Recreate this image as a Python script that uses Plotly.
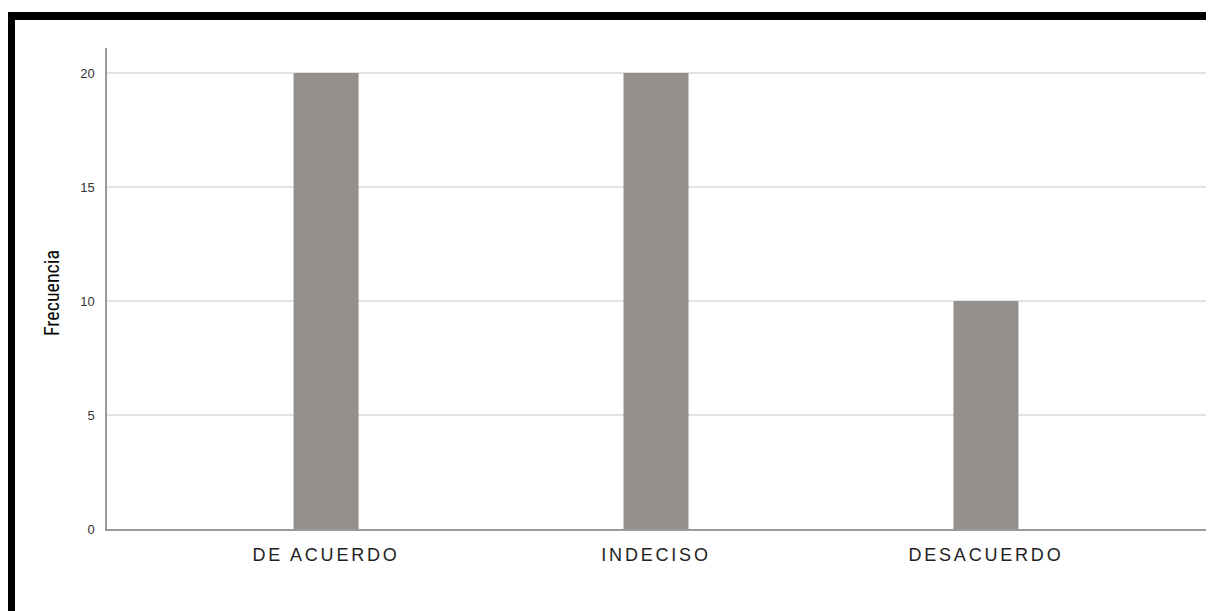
import plotly.graph_objects as go

categories = ["DE ACUERDO", "INDECISO", "DESACUERDO"]
frecuencia = [20, 20, 10]
y_ticks = [0, 5, 10, 15, 20]

# The page body adds an 8px offset; figure coords are page coords minus 8
W, H = 1206, 603
L, R, T, B = 99, 7, 40, 82
pw, ph = W - L - R, H - T - B

def px_x(p):
    return (p - L) / pw

def px_y(p):
    return (H - B - p) / ph

tick_text = ['<span style="letter-spacing:2.8px">%s</span>' % c for c in categories]

fig = go.Figure(go.Bar(
    x=list(range(len(categories))),
    y=frecuencia,
    width=0.197,
    marker=dict(color="#958f8d", line=dict(width=0)),
    hoverinfo="x+y",
))

fig.update_layout(
    width=W, height=H,
    margin=dict(l=L, r=R, t=T, b=B, autoexpand=False),
    paper_bgcolor="white", plot_bgcolor="white",
    showlegend=False,
    xaxis=dict(
        range=[-0.664, 2.67],
        tickmode="array", tickvals=list(range(len(categories))), ticktext=tick_text,
        showgrid=False, zeroline=False,
        showline=True, linecolor="#9a9a9a", linewidth=1.5,
        ticks="", ticklabelstandoff=9,
        tickfont=dict(family="Liberation Sans, Arial, sans-serif", size=18, color="#222222"),
    ),
    yaxis=dict(
        range=[0, 21.1],
        tickmode="array", tickvals=y_ticks,
        showgrid=True, gridcolor="#e2e2e2", gridwidth=2,
        zeroline=False,
        showline=True, linecolor="#9a9a9a", linewidth=1.5,
        ticks="", ticklabelstandoff=8,
        tickfont=dict(family="Liberation Sans, Arial, sans-serif", size=13, color="#333333"),
    ),
    annotations=[dict(
        text="Frecuencia", textangle=-90,
        xref="paper", yref="paper", x=px_x(44), y=px_y(285),
        xanchor="center", yanchor="middle", showarrow=False,
        font=dict(family="Liberation Sans Narrow, Arial Narrow, Roboto Condensed, Liberation Sans, sans-serif",
                  size=20, color="#000000"),
    )],
    shapes=[
        dict(type="rect", xref="paper", yref="paper", layer="above",
             x0=px_x(-2), x1=px_x(W + 5), y0=px_y(12), y1=px_y(4),
             fillcolor="black", line=dict(width=0)),
        dict(type="rect", xref="paper", yref="paper", layer="above",
             x0=px_x(-2), x1=px_x(7), y0=px_y(H + 5), y1=px_y(4),
             fillcolor="black", line=dict(width=0)),
    ],
)

fig.write_html("out.html")
